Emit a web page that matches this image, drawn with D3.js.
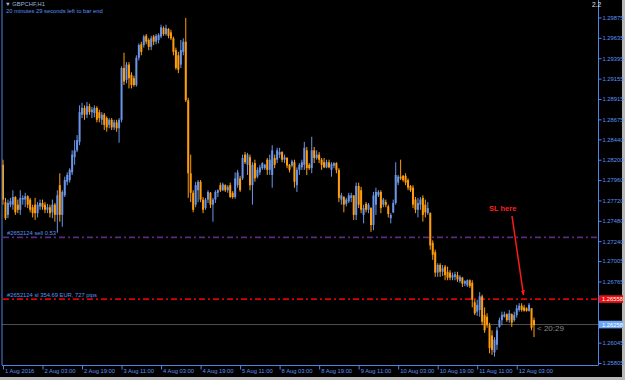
<!DOCTYPE html>
<html>
<head>
<meta charset="utf-8">
<script src="https://cdn.jsdelivr.net/npm/d3@7"></script>
<style>
  body { margin: 0; background: #000; }
  svg { display: block; }
  text { font-family: "Liberation Sans", Arial, sans-serif; }
</style>
</head>
<body>
<div id="fig"></div>
<script>
// GBPCHF H1 candles, 1 Aug 11:00 .. 12 Aug 10:00 (one entry per bar)
var opens = [
  1.2814, 1.2770, 1.2755, 1.2767, 1.2767, 1.2776, 1.2767, 1.2761, 1.2773, 1.2773, 1.2777, 1.2773,
  1.2764, 1.2767, 1.2757, 1.2765, 1.2769, 1.2767, 1.2761, 1.2764, 1.2758, 1.2767, 1.2755, 1.2790,
  1.2755, 1.2778, 1.2794, 1.2796, 1.2805, 1.2823, 1.2831, 1.2841, 1.2873, 1.2881, 1.2873, 1.2883,
  1.2876, 1.2875, 1.2881, 1.2876, 1.2867, 1.2873, 1.2869, 1.2861, 1.2867, 1.2858, 1.2864, 1.2857,
  1.2867, 1.2928, 1.2914, 1.2932, 1.2920, 1.2916, 1.2908, 1.2940, 1.2956, 1.2955, 1.2966, 1.2961,
  1.2953, 1.2965, 1.2959, 1.2961, 1.2965, 1.2975, 1.2968, 1.2974, 1.2970, 1.2963, 1.2949, 1.2943,
  1.2932, 1.2947, 1.2959, 1.2890, 1.2804, 1.2781, 1.2767, 1.2784, 1.2794, 1.2773, 1.2763, 1.2773,
  1.2781, 1.2767, 1.2773, 1.2781, 1.2790, 1.2784, 1.2790, 1.2784, 1.2790, 1.2781, 1.2776, 1.2790,
  1.2798, 1.2798, 1.2826, 1.2814, 1.2823, 1.2790, 1.2816, 1.2800, 1.2805, 1.2810, 1.2810, 1.2820,
  1.2808, 1.2802, 1.2822, 1.2820, 1.2826, 1.2829, 1.2820, 1.2822, 1.2814, 1.2813, 1.2817, 1.2790,
  1.2808, 1.2811, 1.2814, 1.2831, 1.2814, 1.2810, 1.2831, 1.2822, 1.2826, 1.2820, 1.2817, 1.2811,
  1.2817, 1.2808, 1.2813, 1.2816, 1.2808, 1.2773, 1.2776, 1.2768, 1.2771, 1.2775, 1.2778, 1.2755,
  1.2789, 1.2784, 1.2755, 1.2768, 1.2761, 1.2763, 1.2743, 1.2767, 1.2778, 1.2782, 1.2767, 1.2770,
  1.2765, 1.2751, 1.2758, 1.2769, 1.2793, 1.2800, 1.2801, 1.2801, 1.2796, 1.2789, 1.2787, 1.2773,
  1.2761, 1.2767, 1.2775, 1.2767, 1.2757, 1.2757, 1.2722, 1.2711, 1.2687, 1.2696, 1.2688, 1.2694,
  1.2688, 1.2687, 1.2681, 1.2682, 1.2684, 1.2677, 1.2681, 1.2674, 1.2672, 1.2678, 1.2675, 1.2652,
  1.2641, 1.2643, 1.2659, 1.2637, 1.2635, 1.2625, 1.2613, 1.2593, 1.2602, 1.2623, 1.2631, 1.2635,
  1.2638, 1.2631, 1.2638, 1.2631, 1.2637, 1.2643, 1.2648, 1.2646, 1.2645, 1.2642, 1.2645, 1.2631
];
var highs = [
  1.2820, 1.2775, 1.2773, 1.2775, 1.2784, 1.2777, 1.2773, 1.2784, 1.2778, 1.2781, 1.2778, 1.2775,
  1.2767, 1.2775, 1.2770, 1.2773, 1.2773, 1.2770, 1.2768, 1.2767, 1.2773, 1.2769, 1.2784, 1.2804,
  1.2784, 1.2800, 1.2805, 1.2810, 1.2831, 1.2843, 1.2849, 1.2884, 1.2887, 1.2884, 1.2888, 1.2886,
  1.2882, 1.2884, 1.2883, 1.2879, 1.2876, 1.2875, 1.2871, 1.2869, 1.2869, 1.2867, 1.2867, 1.2869,
  1.2930, 1.2946, 1.2935, 1.2935, 1.2923, 1.2919, 1.2943, 1.2957, 1.2959, 1.2967, 1.2968, 1.2963,
  1.2966, 1.2967, 1.2968, 1.2969, 1.2979, 1.2977, 1.2979, 1.2975, 1.2973, 1.2965, 1.2952, 1.2947,
  1.2961, 1.2963, 1.2987, 1.2893, 1.2826, 1.2784, 1.2794, 1.2796, 1.2796, 1.2776, 1.2775, 1.2784,
  1.2782, 1.2775, 1.2784, 1.2785, 1.2793, 1.2793, 1.2791, 1.2790, 1.2793, 1.2783, 1.2805, 1.2808,
  1.2801, 1.2826, 1.2829, 1.2828, 1.2826, 1.2817, 1.2820, 1.2811, 1.2814, 1.2817, 1.2815, 1.2822,
  1.2826, 1.2837, 1.2826, 1.2834, 1.2834, 1.2830, 1.2826, 1.2823, 1.2815, 1.2820, 1.2820, 1.2811,
  1.2816, 1.2820, 1.2841, 1.2835, 1.2816, 1.2847, 1.2835, 1.2831, 1.2829, 1.2822, 1.2822, 1.2820,
  1.2820, 1.2817, 1.2817, 1.2817, 1.2810, 1.2781, 1.2777, 1.2775, 1.2781, 1.2781, 1.2778, 1.2793,
  1.2793, 1.2788, 1.2767, 1.2770, 1.2769, 1.2764, 1.2782, 1.2787, 1.2784, 1.2784, 1.2775, 1.2773,
  1.2767, 1.2757, 1.2773, 1.2817, 1.2802, 1.2820, 1.2802, 1.2804, 1.2798, 1.2790, 1.2790, 1.2776,
  1.2775, 1.2776, 1.2778, 1.2773, 1.2770, 1.2758, 1.2725, 1.2714, 1.2698, 1.2698, 1.2696, 1.2696,
  1.2694, 1.2690, 1.2687, 1.2688, 1.2688, 1.2684, 1.2682, 1.2678, 1.2679, 1.2679, 1.2678, 1.2655,
  1.2655, 1.2664, 1.2661, 1.2646, 1.2639, 1.2628, 1.2619, 1.2611, 1.2623, 1.2634, 1.2641, 1.2641,
  1.2639, 1.2643, 1.2639, 1.2641, 1.2649, 1.2651, 1.2651, 1.2649, 1.2646, 1.2651, 1.2645, 1.2634
];
var lows = [
  1.2767, 1.2749, 1.2751, 1.2764, 1.2761, 1.2755, 1.2757, 1.2755, 1.2767, 1.2764, 1.2763, 1.2758,
  1.2752, 1.2749, 1.2752, 1.2761, 1.2761, 1.2757, 1.2757, 1.2752, 1.2751, 1.2747, 1.2734, 1.2747,
  1.2741, 1.2776, 1.2790, 1.2793, 1.2802, 1.2814, 1.2829, 1.2837, 1.2869, 1.2867, 1.2869, 1.2873,
  1.2869, 1.2870, 1.2864, 1.2864, 1.2861, 1.2855, 1.2853, 1.2857, 1.2855, 1.2855, 1.2853, 1.2840,
  1.2864, 1.2908, 1.2910, 1.2904, 1.2904, 1.2906, 1.2906, 1.2937, 1.2943, 1.2952, 1.2956, 1.2949,
  1.2949, 1.2955, 1.2956, 1.2957, 1.2963, 1.2966, 1.2966, 1.2963, 1.2961, 1.2943, 1.2926, 1.2922,
  1.2928, 1.2943, 1.2888, 1.2775, 1.2770, 1.2758, 1.2764, 1.2770, 1.2770, 1.2757, 1.2761, 1.2769,
  1.2763, 1.2747, 1.2769, 1.2776, 1.2782, 1.2783, 1.2782, 1.2781, 1.2775, 1.2774, 1.2774, 1.2787,
  1.2782, 1.2796, 1.2815, 1.2802, 1.2784, 1.2767, 1.2794, 1.2798, 1.2802, 1.2808, 1.2808, 1.2802,
  1.2802, 1.2787, 1.2810, 1.2816, 1.2822, 1.2817, 1.2816, 1.2810, 1.2805, 1.2811, 1.2787, 1.2782,
  1.2802, 1.2808, 1.2808, 1.2802, 1.2808, 1.2804, 1.2816, 1.2820, 1.2816, 1.2808, 1.2810, 1.2810,
  1.2810, 1.2800, 1.2810, 1.2804, 1.2770, 1.2767, 1.2758, 1.2765, 1.2769, 1.2770, 1.2749, 1.2749,
  1.2763, 1.2757, 1.2745, 1.2758, 1.2757, 1.2735, 1.2737, 1.2755, 1.2776, 1.2757, 1.2764, 1.2764,
  1.2752, 1.2745, 1.2757, 1.2767, 1.2790, 1.2796, 1.2794, 1.2790, 1.2784, 1.2782, 1.2763, 1.2757,
  1.2752, 1.2761, 1.2747, 1.2752, 1.2755, 1.2714, 1.2702, 1.2682, 1.2682, 1.2682, 1.2683, 1.2678,
  1.2678, 1.2678, 1.2678, 1.2678, 1.2676, 1.2675, 1.2670, 1.2671, 1.2670, 1.2669, 1.2646, 1.2637,
  1.2636, 1.2635, 1.2625, 1.2616, 1.2622, 1.2592, 1.2590, 1.2588, 1.2596, 1.2622, 1.2625, 1.2634,
  1.2629, 1.2628, 1.2623, 1.2629, 1.2634, 1.2641, 1.2641, 1.2641, 1.2641, 1.2641, 1.2619, 1.2611
];
var closes = [
  1.2773, 1.2751, 1.2769, 1.2771, 1.2776, 1.2758, 1.2761, 1.2775, 1.2775, 1.2777, 1.2767, 1.2761,
  1.2757, 1.2757, 1.2767, 1.2769, 1.2764, 1.2761, 1.2764, 1.2757, 1.2767, 1.2755, 1.2778, 1.2755,
  1.2782, 1.2796, 1.2802, 1.2808, 1.2826, 1.2831, 1.2843, 1.2876, 1.2881, 1.2873, 1.2883, 1.2876,
  1.2879, 1.2881, 1.2867, 1.2869, 1.2873, 1.2861, 1.2858, 1.2867, 1.2858, 1.2864, 1.2857, 1.2867,
  1.2928, 1.2912, 1.2932, 1.2916, 1.2908, 1.2908, 1.2940, 1.2955, 1.2947, 1.2965, 1.2959, 1.2953,
  1.2963, 1.2959, 1.2966, 1.2967, 1.2976, 1.2968, 1.2975, 1.2966, 1.2963, 1.2947, 1.2928, 1.2926,
  1.2949, 1.2959, 1.2890, 1.2804, 1.2781, 1.2761, 1.2790, 1.2794, 1.2773, 1.2761, 1.2773, 1.2782,
  1.2767, 1.2773, 1.2782, 1.2784, 1.2784, 1.2791, 1.2784, 1.2788, 1.2776, 1.2776, 1.2798, 1.2805,
  1.2784, 1.2822, 1.2817, 1.2826, 1.2790, 1.2814, 1.2798, 1.2808, 1.2811, 1.2816, 1.2814, 1.2808,
  1.2820, 1.2831, 1.2814, 1.2831, 1.2829, 1.2820, 1.2823, 1.2813, 1.2808, 1.2818, 1.2794, 1.2808,
  1.2814, 1.2817, 1.2834, 1.2810, 1.2810, 1.2831, 1.2822, 1.2826, 1.2820, 1.2814, 1.2811, 1.2817,
  1.2811, 1.2815, 1.2816, 1.2808, 1.2775, 1.2778, 1.2767, 1.2773, 1.2778, 1.2778, 1.2755, 1.2789,
  1.2767, 1.2761, 1.2763, 1.2761, 1.2767, 1.2743, 1.2778, 1.2782, 1.2782, 1.2763, 1.2773, 1.2767,
  1.2756, 1.2755, 1.2769, 1.2802, 1.2800, 1.2798, 1.2796, 1.2793, 1.2787, 1.2784, 1.2767, 1.2761,
  1.2769, 1.2773, 1.2755, 1.2758, 1.2763, 1.2719, 1.2708, 1.2687, 1.2696, 1.2688, 1.2692, 1.2684,
  1.2681, 1.2681, 1.2684, 1.2685, 1.2679, 1.2682, 1.2674, 1.2677, 1.2678, 1.2671, 1.2655, 1.2639,
  1.2649, 1.2659, 1.2629, 1.2619, 1.2625, 1.2598, 1.2596, 1.2608, 1.2619, 1.2631, 1.2637, 1.2638,
  1.2631, 1.2639, 1.2628, 1.2637, 1.2645, 1.2648, 1.2643, 1.2642, 1.2642, 1.2649, 1.2622, 1.2625
];

// price axis labels and time axis labels (one every 16 bars)
var priceTicks = [1.29875, 1.29635, 1.29395, 1.29155, 1.28915, 1.28675, 1.28440, 1.28200,
                  1.27960, 1.27720, 1.27480, 1.27240, 1.27005, 1.26765, 1.26045, 1.25805];
var timeLabels = ["1 Aug 2016", "2 Aug 03:00", "2 Aug 19:00", "3 Aug 11:00", "4 Aug 03:00",
                  "4 Aug 19:00", "5 Aug 11:00", "8 Aug 03:00", "8 Aug 19:00", "9 Aug 11:00",
                  "10 Aug 03:00", "10 Aug 19:00", "11 Aug 11:00", "12 Aug 03:00"];
var timeStep = 16;

// order lines
var sellPrice = 1.27285, slPrice = 1.26558, bidPrice = 1.26258;

var width = 625, height = 380;
var plotRight = 598, plotBottom = 365;

var svg = d3.select("#fig").append("svg")
    .attr("width", width)
    .attr("height", height);

svg.append("rect").attr("width", width).attr("height", height).attr("fill", "#000");

var x = d3.scaleLinear().domain([0, closes.length - 1]).range([3, 534]);
var y = d3.scaleLinear().domain([1.25805, 1.29875]).range([363, 17.5]);

var upColor = "#6b95e6", downColor = "#ff9d0a";
var blue = "#4d84e4", blueText = "#5c93f2";

// window frame (light grey) on the right / bottom
svg.append("rect").attr("x", 622).attr("y", 0).attr("width", 3).attr("height", height).attr("fill", "#b8b8b8");
svg.append("rect").attr("x", 0).attr("y", 377).attr("width", width).attr("height", 3).attr("fill", "#b8b8b8");

// bid line
svg.append("line")
    .attr("x1", 2).attr("x2", plotRight)
    .attr("y1", y(bidPrice)).attr("y2", y(bidPrice))
    .attr("stroke", "#505050").attr("stroke-width", 1);

// order lines (dash-dot)
svg.append("line")
    .attr("x1", 3).attr("x2", plotRight)
    .attr("y1", y(sellPrice)).attr("y2", y(sellPrice))
    .attr("stroke", "#5b2a80").attr("stroke-width", 1.6)
    .attr("stroke-dasharray", "6,3,2,3");
svg.append("line")
    .attr("x1", 3).attr("x2", plotRight)
    .attr("y1", y(slPrice)).attr("y2", y(slPrice))
    .attr("stroke", "#e00000").attr("stroke-width", 1.6)
    .attr("stroke-dasharray", "6,3,2,3");

// candles
var idx = d3.range(closes.length);
var candles = svg.append("g");
candles.selectAll(".wick")
    .data(idx).enter().append("rect")
    .attr("x", function(i) { return x(i) - 0.5; })
    .attr("width", 1)
    .attr("y", function(i) { return y(highs[i]); })
    .attr("height", function(i) { return Math.max(1, y(lows[i]) - y(highs[i])); })
    .attr("fill", function(i) { return closes[i] >= opens[i] ? upColor : downColor; });
candles.selectAll(".body")
    .data(idx).enter().append("rect")
    .attr("x", function(i) { return x(i) - 1; })
    .attr("width", 2)
    .attr("y", function(i) { return y(Math.max(opens[i], closes[i])); })
    .attr("height", function(i) { return Math.max(1, Math.abs(y(opens[i]) - y(closes[i]))); })
    .attr("fill", function(i) { return closes[i] >= opens[i] ? upColor : downColor; });

// order labels
svg.append("text").attr("x", 7).attr("y", y(sellPrice) - 2.5)
    .attr("fill", blueText).style("font-size", "5.8px")
    .text("#2652124 sell 0.53");
svg.append("text").attr("x", 7).attr("y", y(slPrice) - 2.5)
    .attr("fill", blueText).style("font-size", "5.8px")
    .text("#2652124 sl 354.69 EUR, 727 pips");

// frame lines
svg.append("line").attr("x1", 2).attr("x2", 2).attr("y1", 0).attr("y2", plotBottom)
    .attr("stroke", blue).attr("stroke-width", 1);
svg.append("line").attr("x1", plotRight + 0.5).attr("x2", plotRight + 0.5).attr("y1", 0).attr("y2", plotBottom)
    .attr("stroke", blue).attr("stroke-width", 1);
svg.append("line").attr("x1", 2).attr("x2", plotRight + 0.5).attr("y1", plotBottom + 0.5).attr("y2", plotBottom + 0.5)
    .attr("stroke", blue).attr("stroke-width", 1);

// price axis
var yAxis = svg.append("g")
    .attr("transform", "translate(" + (plotRight + 0.5) + ",0)")
    .call(d3.axisRight(y).tickValues(priceTicks).tickFormat(d3.format(".5f")).tickSize(3).tickSizeOuter(0));
yAxis.select(".domain").remove();
yAxis.selectAll("line").attr("stroke", blue);
yAxis.selectAll("text").attr("fill", blueText).attr("x", 4)
    .style("font-size", "5.8px").style("font-family", "Liberation Sans, Arial, sans-serif");

// time axis
var xAxis = svg.append("g")
    .attr("transform", "translate(0," + (plotBottom + 0.5) + ")")
    .call(d3.axisBottom(x)
        .tickValues(timeLabels.map(function(d, i) { return i * timeStep; }))
        .tickFormat(function(d, i) { return timeLabels[i]; })
        .tickSize(4).tickSizeOuter(0));
xAxis.select(".domain").remove();
xAxis.selectAll("line").attr("stroke", blue);
xAxis.selectAll("text").attr("fill", blueText)
    .attr("text-anchor", "start").attr("x", 1.5).attr("y", 3).attr("dy", "0.71em")
    .style("font-size", "5.8px").style("font-family", "Liberation Sans, Arial, sans-serif");

// price boxes on the axis
function priceBox(p, bg, fg) {
  svg.append("rect").attr("x", plotRight + 1).attr("y", y(p) - 3.8)
      .attr("width", 24).attr("height", 7.6).attr("fill", bg);
  svg.append("text").attr("x", plotRight + 4).attr("y", y(p) + 2)
      .attr("fill", fg).style("font-size", "5.8px")
      .text(d3.format(".5f")(p));
}
priceBox(slPrice, "#e81010", "#ffffff");
priceBox(bidPrice, "#6ea6f5", "#ffffff");

// time left on the bid line
svg.append("text").attr("x", 537).attr("y", y(bidPrice) + 6.5)
    .attr("fill", "#8a8a8a").style("font-size", "8px")
    .text("< 20:29");

// header
svg.append("text").attr("x", 5).attr("y", 6)
    .attr("fill", "#9fb5dc").style("font-size", "5.8px")
    .text("\u25BC GBPCHF,H1");
svg.append("text").attr("x", 6).attr("y", 13)
    .attr("fill", blueText).style("font-size", "5.8px")
    .text("20 minutes 29 seconds left to bar end");
svg.append("text").attr("x", 592).attr("y", 7)
    .attr("fill", "#e8e8e8").style("font-size", "6.5px")
    .text("2.2");

// annotation
svg.append("defs").append("marker")
    .attr("id", "head").attr("viewBox", "0 0 10 10")
    .attr("refX", 9).attr("refY", 5)
    .attr("markerWidth", 3.5).attr("markerHeight", 5)
    .attr("markerUnits", "strokeWidth")
    .attr("orient", "auto")
  .append("path").attr("d", "M0,1 L10,5 L0,9 Z").attr("fill", "#ff1a1a");
svg.append("line")
    .attr("x1", 512).attr("y1", 216).attr("x2", 523.5).attr("y2", 295)
    .attr("stroke", "#ff1a1a").attr("stroke-width", 1.5)
    .attr("marker-end", "url(#head)");
svg.append("text").attr("x", 489).attr("y", 211)
    .attr("fill", "#ff2020").style("font-size", "7.5px").style("font-weight", "bold")
    .text("SL here");
</script>
</body>
</html>
